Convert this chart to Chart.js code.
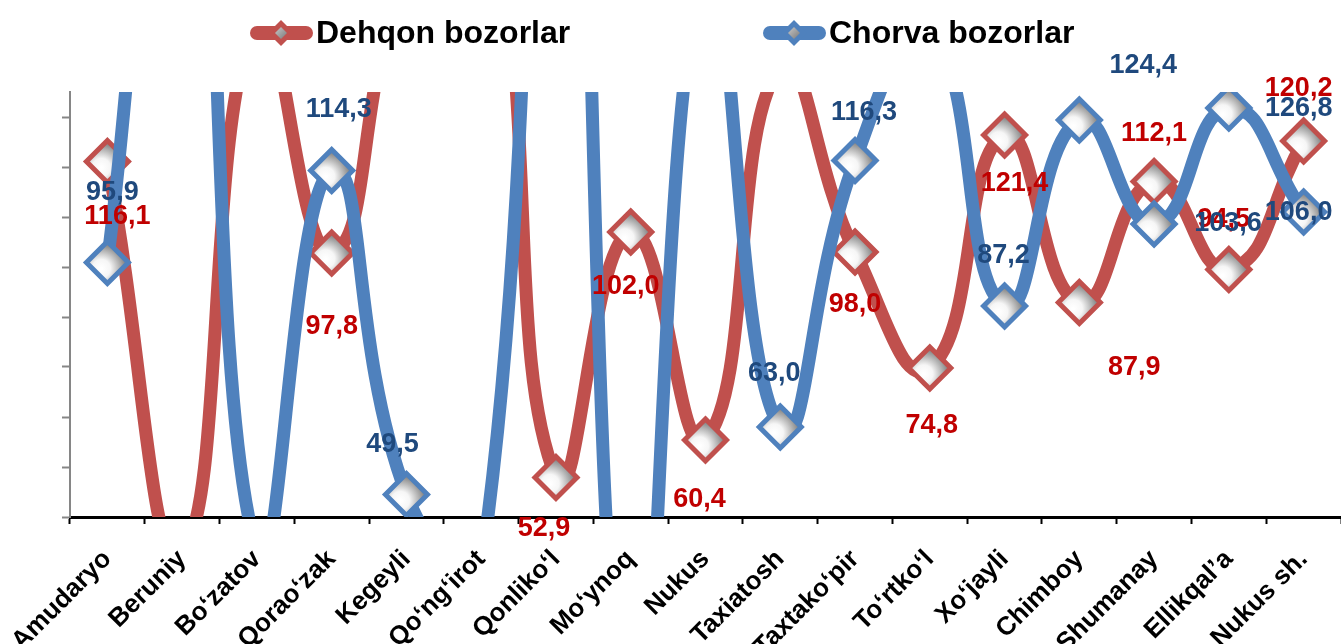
<!DOCTYPE html>
<html>
<head>
<meta charset="utf-8">
<script src="https://cdn.jsdelivr.net/npm/chart.js@4.4.1/dist/chart.umd.min.js"></script>
<style>
  html, body { margin: 0; padding: 0; background: #fff; overflow: hidden; }
</style>
</head>
<body>
<canvas id="chart" width="1341" height="644"></canvas>
<script>
const districts = ["Amudaryo", "Beruniy", "Bo‘zatov", "Qorao‘zak", "Kegeyli", "Qo‘ng‘irot", "Qonliko‘l",
    "Mo‘ynoq", "Nukus", "Taxiatosh", "Taxtako‘pir", "To‘rtko‘l", "Xo‘jayli", "Chimboy", "Shumanay",
    "Ellikqal’a", "Nukus sh."];

// values off the visible axis range are estimated from the curve shape
const dehqon = [116.1, 38, 145, 97.8, 155, 175, 52.9, 102.0, 60.4, 135, 98.0, 74.8, 121.4, 87.9, 112.1, 94.5, 120.2];
const chorva = [95.9, 215, 38, 114.3, 49.5, 35, 260, -5, 155, 63.0, 116.3, 142, 87.2, 124.4, 103.6, 126.8, 106.0];

const seriesNames = ["Dehqon bozorlar", "Chorva bozorlar"];
const yTicks = [45, 55, 65, 75, 85, 95, 105, 115, 125];

// label offsets (px) from each marker, as placed in the original
const dehqonLabelPos = [[10, 55], null, null, [0, 74], null, null, [-12, 51], [-5, 55], [-6, 60], null,
    [0, 53], [2, 58], [10, 49], [55, 65], [0, -48], [-5, -50], [-5, -52]];
const chorvaLabelPos = [[5, -70], null, null, [7, -61], [-14, -50], null, null, null, null, [-6, -53],
    [9, -48], null, [-1, -50], [64, -54], [74, 0], [70, 1], [-5, 1]];

const RED = '#C0504D', BLUE = '#4F81BD';
const FONT = '"Liberation Sans", Arial, sans-serif';

function markerFill(c) {
    const chart = c.chart;
    const xs = chart.scales.x, ys = chart.scales.y;
    if (!xs || !ys || c.raw == null) return '#e0e0e0';
    const px = xs.getPixelForValue(c.dataIndex);
    const py = ys.getPixelForValue(c.raw);
    if (!isFinite(px) || !isFinite(py)) return '#e0e0e0';
    const g = chart.ctx.createRadialGradient(px - 6, py + 6, 1, px - 6, py + 6, 28);
    g.addColorStop(0, '#ffffff');
    g.addColorStop(0.3, '#f6f6f6');
    g.addColorStop(1, '#6a6a6a');
    return g;
}

const valueLabels = {
    id: 'valueLabels',
    afterDatasetsDraw(chart) {
        const ctx = chart.ctx;
        const sets = [
            { idx: 0, pos: dehqonLabelPos, color: '#C00000' },
            { idx: 1, pos: chorvaLabelPos, color: '#1F497D' }
        ];
        ctx.save();
        ctx.font = 'bold 27px ' + FONT;
        ctx.textAlign = 'center';
        ctx.textBaseline = 'middle';
        sets.forEach(s => {
            const meta = chart.getDatasetMeta(s.idx);
            const values = chart.data.datasets[s.idx].data;
            meta.data.forEach((pt, i) => {
                const off = s.pos[i];
                if (!off) return;
                ctx.fillStyle = s.color;
                ctx.fillText(values[i].toFixed(1).replace('.', ','), pt.x + off[0], pt.y + off[1]);
            });
        });
        ctx.restore();
    }
};

const customLegend = {
    id: 'customLegend',
    afterDraw(chart) {
        const ctx = chart.ctx;
        const items = [
            { x: 250, color: RED, text: seriesNames[0] },
            { x: 763, color: BLUE, text: seriesNames[1] }
        ];
        const y = 33;
        ctx.save();
        items.forEach(it => {
            ctx.strokeStyle = it.color;
            ctx.lineWidth = 14;
            ctx.lineCap = 'round';
            ctx.beginPath();
            ctx.moveTo(it.x + 7, y);
            ctx.lineTo(it.x + 56, y);
            ctx.stroke();
            const cx = it.x + 31;
            ctx.beginPath();
            ctx.moveTo(cx, y - 13);
            ctx.lineTo(cx + 13, y);
            ctx.lineTo(cx, y + 13);
            ctx.lineTo(cx - 13, y);
            ctx.closePath();
            ctx.fillStyle = it.color;
            ctx.fill();
            const g = ctx.createLinearGradient(cx - 6, y - 6, cx + 6, y + 6);
            g.addColorStop(0, '#c8c8c8');
            g.addColorStop(1, '#7a7a7a');
            ctx.beginPath();
            ctx.moveTo(cx, y - 6);
            ctx.lineTo(cx + 6, y);
            ctx.lineTo(cx, y + 6);
            ctx.lineTo(cx - 6, y);
            ctx.closePath();
            ctx.fillStyle = g;
            ctx.fill();
            ctx.fillStyle = '#000';
            ctx.font = 'bold 32px ' + FONT;
            ctx.textAlign = 'left';
            ctx.textBaseline = 'middle';
            ctx.fillText(it.text, it.x + 66, y + 1);
        });
        ctx.restore();
    }
};

function lineDataset(label, data, color, order) {
    return {
        label: label,
        data: data,
        order: order,
        borderColor: color,
        borderWidth: 13,
        tension: 0.5,
        fill: false,
        pointStyle: 'rectRot',
        pointRadius: 21,
        pointBorderWidth: 5,
        pointBorderColor: color,
        pointBackgroundColor: markerFill,
        pointHoverRadius: 21
    };
}

const ctx = document.getElementById('chart').getContext('2d');
new Chart(ctx, {
    type: 'line',
    data: {
        labels: districts,
        datasets: [
            lineDataset(seriesNames[0], dehqon, RED, 1),
            lineDataset(seriesNames[1], chorva, BLUE, 0)
        ]
    },
    options: {
        responsive: false,
        animation: false,
        layout: { autoPadding: false, padding: { top: 92, right: -4, left: 0, bottom: 0 } },
        plugins: {
            legend: { display: false },
            tooltip: { enabled: false }
        },
        elements: { line: { capBezierPoints: false } },
        scales: {
            x: {
                offset: true,
                grid: {
                    offset: true,
                    drawOnChartArea: false,
                    tickLength: 7,
                    tickColor: '#000',
                    tickWidth: 2
                },
                border: { color: '#000', width: 3 },
                ticks: {
                    autoSkip: false,
                    maxRotation: 45,
                    minRotation: 45,
                    padding: 20,
                    color: '#000',
                    font: { family: FONT, size: 26, weight: 'bold' }
                },
                afterFit(scale) {
                    scale.height = 127;
                    scale.paddingLeft = 0;
                    scale.paddingRight = 0;
                }
            },
            y: {
                min: 45,
                max: 130,
                grid: {
                    drawOnChartArea: false,
                    tickLength: 8,
                    tickColor: '#868686',
                    tickWidth: 2
                },
                border: { color: '#868686', width: 2 },
                ticks: { display: false },
                afterBuildTicks(scale) { scale.ticks = yTicks.map(v => ({ value: v })); },
                afterFit(scale) { scale.width = 70; }
            }
        }
    },
    plugins: [valueLabels, customLegend]
});
</script>
</body>
</html>
